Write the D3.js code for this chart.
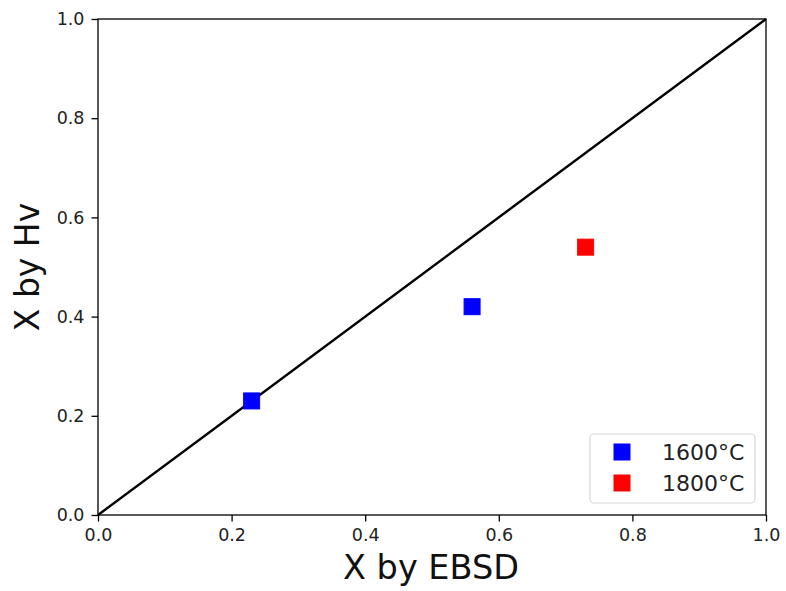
<!DOCTYPE html>
<html><head><meta charset="utf-8">
<script src="https://cdn.jsdelivr.net/npm/d3@7"></script>
<style>body{margin:0;background:#fff;} text{font-family:"DejaVu Sans",sans-serif;}</style>
</head><body>
<svg id="chart" width="786" height="591"></svg>
<script>
const seriesNames = ["1600°C", "1800°C"];
const seriesColors = ["#0000ff", "#ff0000"];
const xEBSD_1600 = [0.23, 0.56];
const xHv_1600 = [0.23, 0.42];
const xEBSD_1800 = [0.73];
const xHv_1800 = [0.54];
const diagonal = [[0, 0], [1, 1]];
const tickValues = [0.0, 0.2, 0.4, 0.6, 0.8, 1.0];
const xLabel = "X by EBSD";
const yLabel = "X by Hv";

const svg = d3.select("#chart");
const L = 98, R = 766, T = 19, B = 515;
const x = d3.scaleLinear().domain([0, 1]).range([L, R]);
const y = d3.scaleLinear().domain([0, 1]).range([B, T]);

const fmt = d3.format(".1f");
const xAxis = svg.append("g").attr("transform", `translate(0,${B})`)
  .call(d3.axisBottom(x).tickValues(tickValues).tickFormat(fmt).tickSize(6.5).tickPadding(7));
const yAxis = svg.append("g").attr("transform", `translate(${L},0)`)
  .call(d3.axisLeft(y).tickValues(tickValues).tickFormat(fmt).tickSize(6.5).tickPadding(7));
[xAxis, yAxis].forEach(a => {
  a.select(".domain").remove();
  a.selectAll("line").attr("stroke", "#000").attr("stroke-width", 1.3);
  a.selectAll("text").attr("font-size", 17.5).attr("fill", "#222").attr("font-family", "DejaVu Sans");
});

// frame
svg.append("rect").attr("x", L).attr("y", T).attr("width", R - L).attr("height", B - T)
  .attr("fill", "none").attr("stroke", "#000").attr("stroke-width", 1.3);

// diagonal
const line = d3.line().x(d => x(d[0])).y(d => y(d[1]));
svg.append("path").attr("d", line(diagonal)).attr("stroke", "#000").attr("stroke-width", 2.4).attr("fill", "none");

const ms = 16;
function drawSeries(xs, ys, color) {
  svg.append("g").selectAll("rect").data(xs).join("rect")
    .attr("x", (d) => x(d) - ms / 2)
    .attr("y", (d, i) => y(ys[i]) - ms / 2)
    .attr("width", ms).attr("height", ms)
    .attr("fill", color).attr("stroke", color).attr("stroke-width", 1);
}
drawSeries(xEBSD_1600, xHv_1600, seriesColors[0]);
drawSeries(xEBSD_1800, xHv_1800, seriesColors[1]);

// labels
svg.append("text").attr("x", (L + R) / 2 - 1).attr("y", 579).attr("text-anchor", "middle")
  .attr("font-size", 33.5).attr("fill", "#111").text(xLabel);
svg.append("text").attr("transform", `translate(39,${(T + B) / 2}) rotate(-90)`).attr("text-anchor", "middle")
  .attr("font-size", 33).attr("fill", "#111").text(yLabel);

// legend
const lg = svg.append("g");
lg.append("rect").attr("x", 590).attr("y", 434).attr("width", 165).attr("height", 69).attr("rx", 4)
  .attr("fill", "#fff").attr("fill-opacity", 0.8).attr("stroke", "#d6d6d6").attr("stroke-width", 1.2);
seriesNames.forEach((name, i) => {
  const cy = 452 + i * 31;
  lg.append("rect").attr("x", 622 - ms / 2).attr("y", cy - ms / 2).attr("width", ms).attr("height", ms)
    .attr("fill", seriesColors[i]).attr("stroke", seriesColors[i]).attr("stroke-width", 1);
  lg.append("text").attr("x", 662).attr("y", cy).attr("dy", "0.36em")
    .attr("font-size", 22).attr("fill", "#222").text(name);
});
</script>
</body></html>
